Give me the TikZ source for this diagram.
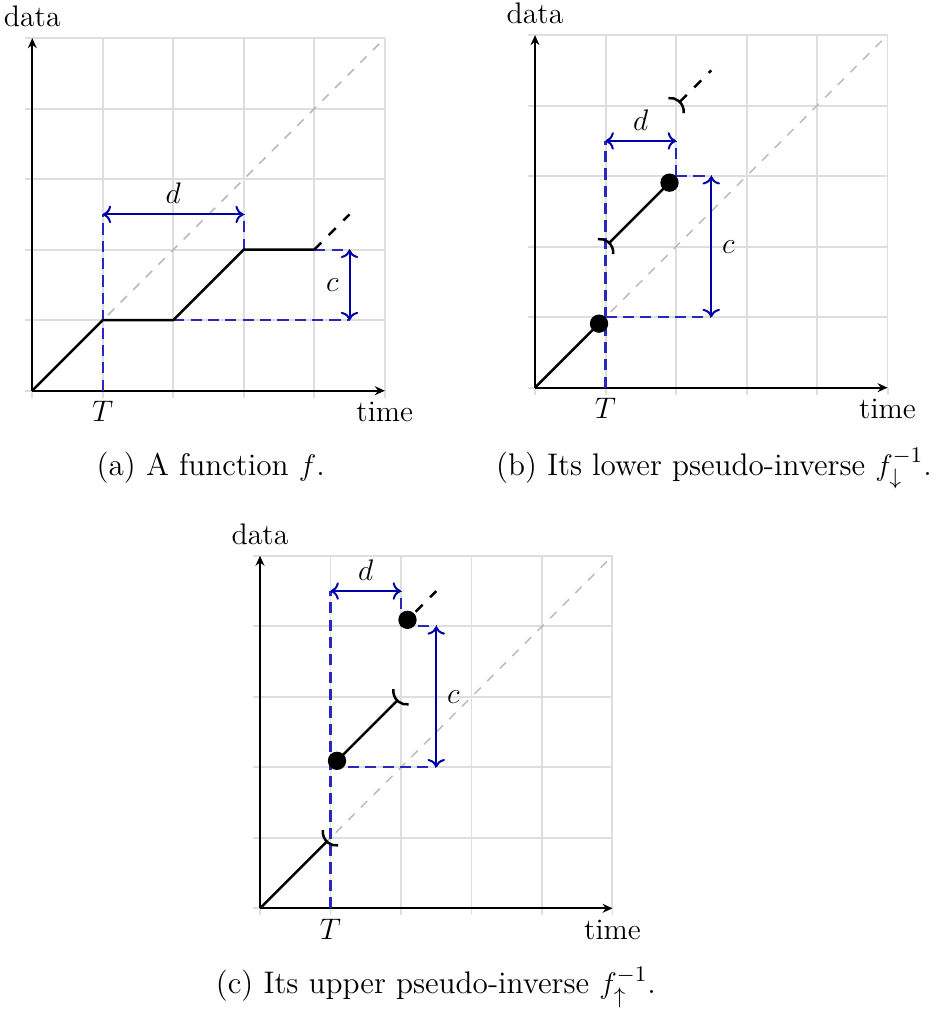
\documentclass[tikz,border=0pt,12pt]{standalone}
\usetikzlibrary{arrows.meta,calc}
\definecolor{dimblue}{RGB}{0,0,170}
\definecolor{guideblue}{RGB}{40,40,190}
\definecolor{gridgray}{RGB}{222,222,222}
\definecolor{diaggray}{RGB}{185,185,185}
\tikzset{
  gridline/.style={gridgray, line width=0.8pt},
  diagline/.style={diaggray, line width=0.6pt, dash pattern=on 3.6pt off 3.6pt},
  axisline/.style={line width=0.9pt, -{Stealth[length=4pt,width=3.6pt]}},
  fline/.style={line width=1pt},
  fdash/.style={line width=1pt, dash pattern=on 4pt off 4.3pt},
  hookline/.style={line width=1pt},
  guide/.style={guideblue, line width=0.9pt, dash pattern=on 4.5pt off 2.5pt},
  measure/.style={dimblue, line width=0.8pt, {To}-{To}, every node/.append style={text=black}},
  dot/.style={circle, fill=black, inner sep=0pt, minimum size=0.26cm},
  lbl/.style={anchor=base, inner sep=0pt},
  captext/.style={anchor=base, inner sep=0pt, font=\fontsize{12.6}{15}\selectfont},
}
\newcommand{\myaxes}[1]{%
  \draw[gridline] (0,0) grid (5,5);
  \foreach \k in {0,...,5} {\draw[gridline] (\k,0) -- (\k,-0.1); \draw[gridline] (0,\k) -- (-0.1,\k);}
  \draw[diagline] (0,0) -- (5,5);
  \coordinate (#1O) at (0,0);
  \coordinate (#1X) at (5,0);
  \coordinate (#1Y) at (0,5);
  \draw[axisline] (#1O) -- (#1Y);
  \draw[axisline] (#1O) -- (#1X);
  \node[lbl] (#1data) at (0,5.165) {data};
  \node[lbl] (#1time) at (5,-0.44) {time};
  \node[lbl] (#1T) at (1,-0.44) {$T$};
}
\newcommand{\myhookup}[1]{\draw[hookline] ($(#1)+(-0.081,-0.081)$) ++(-8:0.19) arc[start angle=-8,end angle=98,radius=0.19];}
\newcommand{\myhookdown}[1]{\draw[hookline] ($(#1)+(0.081,0.081)$) ++(172:0.19) arc[start angle=172,end angle=278,radius=0.19];}
\begin{document}
\begin{tikzpicture}
\useasboundingbox (0,0) rectangle (13.248,14.369);
% ---------- panel (a)
\begin{scope}[shift={(0.458,8.827)}]
  \myaxes{a}
  \draw[guide] (1,0) -- (1,2.5);
  \draw[guide] (3,2) -- (3,2.5);
  \draw[guide] (2,1) -- (4.5,1);
  \draw[guide] (4,2) -- (4.5,2);
  \draw[measure] (1,2.5) -- node[above] (ad) {$d$} (3,2.5);
  \draw[measure] (4.5,1) -- node[left] (ac) {$c$} (4.5,2);
  \draw[fline] (0,0) -- (1,1) -- (2,1) -- (3,2) -- (4,2);
  \draw[fdash] (4,2) -- (4.5,2.5);
\end{scope}
% ---------- panel (b)
\begin{scope}[shift={(7.589,8.870)}]
  \myaxes{b}
  \draw[guide] (1,0) -- (1,3.5);
  \draw[guide] (2,3) -- (2,3.5);
  \draw[guide] (1,1) -- (2.5,1);
  \draw[guide] (2,3) -- (2.5,3);
  \draw[measure] (1,3.5) -- node[above] (bd) {$d$} (2,3.5);
  \draw[measure] (2.5,1) -- node[right] (bc) {$c$} (2.5,3);
  \coordinate (bs1) at (1.053,2.053);
  \coordinate (bs2) at (2.053,4.053);
  \coordinate (be2) at (2.5,4.5);
  \draw[fline] (0,0) -- (0.908,0.908);
  \draw[fline] (bs1) -- (1.908,2.908);
  \draw[fdash] (bs2) -- (be2);
  \node[dot] (bdot1) at (0.908,0.908) {};
  \node[dot] (bdot2) at (1.908,2.908) {};
  \myhookup{1,2}
  \myhookup{2,4}
\end{scope}
% ---------- panel (c)
\begin{scope}[shift={(3.688,1.485)}]
  \myaxes{c}
  \draw[guide] (1,0) -- (1,4.5);
  \draw[guide] (2,4) -- (2,4.5);
  \draw[guide] (1,2) -- (2.5,2);
  \draw[guide] (2,4) -- (2.5,4);
  \draw[measure] (1,4.5) -- node[above] (cd) {$d$} (2,4.5);
  \draw[measure] (2.5,2) -- node[right] (cc) {$c$} (2.5,4);
  \coordinate (ce1) at (0.947,0.947);
  \coordinate (ce2) at (1.947,2.947);
  \coordinate (cs3) at (2,4);
  \coordinate (ce3) at (2.5,4.5);
  \draw[fline] (0,0) -- (ce1);
  \draw[fline] (1.092,2.092) -- (ce2);
  \draw[fdash] (cs3) -- (ce3);
  \node[dot] (cdot1) at (1.092,2.092) {};
  \node[dot] (cdot2) at (2.092,4.092) {};
  \myhookdown{1,1}
  \myhookdown{2,3}
\end{scope}
% ---------- captions
\node[captext] (capa) at (2.990,7.631) {(a) A function $f$.};
\node[captext] (capb) at (10.128,7.631) {(b) Its lower pseudo-inverse $f_{\downarrow}^{-1}$.};
\node[captext] (capc) at (6.184,0.270) {(c) Its upper pseudo-inverse $f_{\uparrow}^{-1}$.};
\end{tikzpicture}
\end{document}
